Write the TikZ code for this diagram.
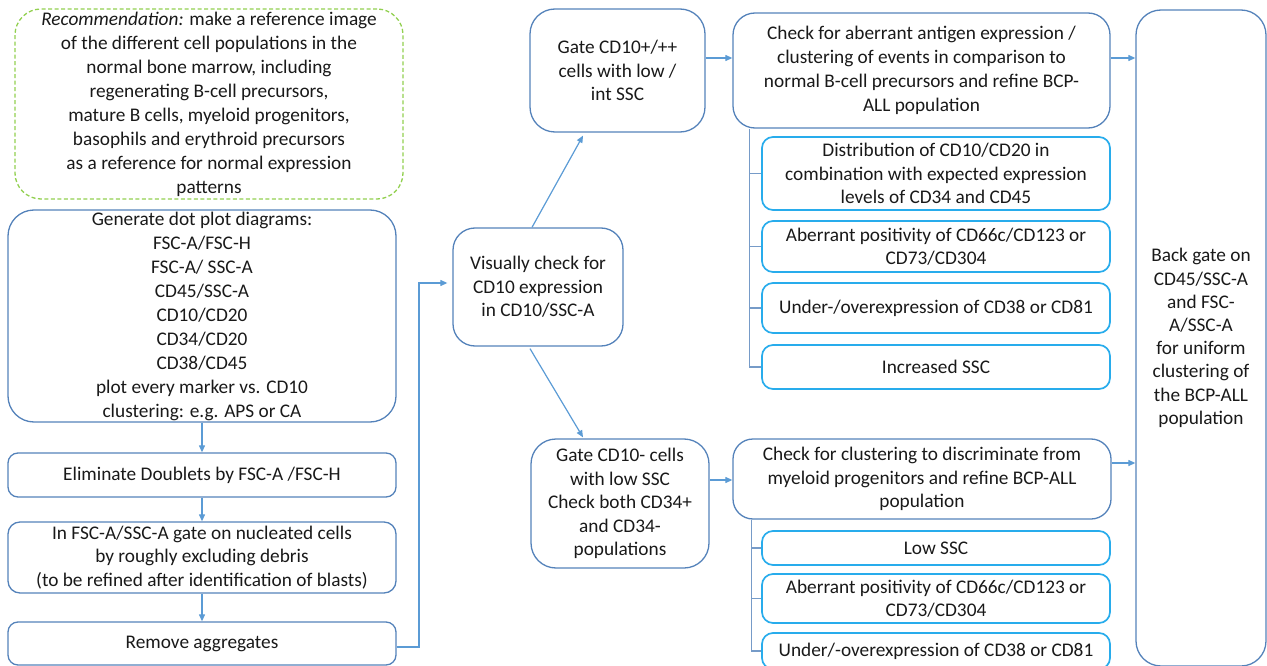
\documentclass[tikz,border=0pt]{standalone}
\usepackage{fontspec}
\setmainfont{Carlito}
\usetikzlibrary{arrows.meta,calc}
\definecolor{mainblue}{RGB}{84,130,186}
\definecolor{subblue}{RGB}{40,172,236}
\definecolor{arrblue}{RGB}{91,155,213}
\definecolor{recgreen}{RGB}{146,208,80}
\definecolor{txt}{RGB}{25,25,25}
\begin{document}
\begin{tikzpicture}[x=1pt,y=-1pt,
  every node/.style={font=\fontsize{19.3}{23.5}\selectfont, text=txt, align=center, inner sep=0pt},
  wide/.style={font=\fontsize{19.3}{24}\selectfont},
  mbox/.style={draw=mainblue, line width=1.3pt},
  sbox/.style={draw=subblue, line width=1.7pt, rounded corners=11pt, minimum width=348pt},
  recbox/.style={draw=recgreen, line width=1.3pt, dash pattern=on 4pt off 2.5pt, rounded corners=26pt},
  arr/.style={draw=arrblue, line width=1.2pt, -{Triangle[length=7pt,width=6pt]}},
  tree/.style={draw=mainblue!80, line width=1.2pt}
]
\useasboundingbox (0,0) rectangle (1267,666);
\clip (0,0) rectangle (1267,666);

% left column
\node[recbox, wide, minimum width=388pt, minimum height=190pt] (rec) at (209,104)
 {\textit{Recommendation:} make a reference image\\of the different cell populations in the\\normal bone marrow, including\\regenerating B-cell precursors,\\mature B cells, myeloid progenitors,\\basophils and erythroid precursors\\as a reference for normal expression\\patterns};
\node[mbox, wide, rounded corners=26pt, minimum width=388pt, minimum height=212pt] (gen) at (202,316)
 {Generate dot plot diagrams:\\FSC-A/FSC-H\\FSC-A/ SSC-A\\CD45/SSC-A\\CD10/CD20\\CD34/CD20\\CD38/CD45\\plot every marker vs. CD10\\clustering: e.g. APS or CA};
\node[mbox, rounded corners=10pt, minimum width=388pt, minimum height=44pt] (elim) at (202,475)
 {Eliminate Doublets by FSC-A /FSC-H};
\node[mbox, rounded corners=12pt, minimum width=388pt, minimum height=71pt] (nuc) at (202,557.5)
 {In FSC-A/SSC-A gate on nucleated cells\\by roughly excluding debris\\(to be refined after identification of blasts)};
\node[mbox, rounded corners=10pt, minimum width=388pt, minimum height=43pt] (rem) at (202,643.5)
 {Remove aggregates};

% middle
\node[mbox, rounded corners=22pt, minimum width=170pt, minimum height=118pt] (vis) at (538,287)
 {Visually check for\\CD10 expression\\in CD10/SSC-A};
\node[mbox, rounded corners=25pt, minimum width=175pt, minimum height=123pt] (gp) at (617.5,70.5)
 {Gate CD10+/++\\cells with low /\\int SSC};
\node[mbox, rounded corners=25pt, minimum width=178pt, minimum height=129pt] (gn) at (620,503.5)
 {Gate CD10- cells\\with low SSC\\Check both CD34+\\and CD34-\\populations};

% right checks
\node[mbox, wide, rounded corners=22pt, minimum width=377pt, minimum height=115pt] (ca) at (921.5,70.5)
 {Check for aberrant antigen expression /\\clustering of events in comparison to\\normal B-cell precursors and refine BCP-\\ALL population};
\node[mbox, rounded corners=20pt, minimum width=378pt, minimum height=80pt] (cc) at (922,479)
 {Check for clustering to discriminate from\\myeloid progenitors and refine BCP-ALL\\population};

\node[sbox, minimum height=73pt] (s1) at (936,173.5)
 {Distribution of CD10/CD20 in\\combination with expected expression\\levels of CD34 and CD45};
\node[sbox, minimum height=51pt] (s2) at (936,246.5)
 {Aberrant positivity of CD66c/CD123 or\\CD73/CD304};
\node[sbox, minimum height=50pt] (s3) at (936,308)
 {Under-/overexpression of CD38 or CD81};
\node[sbox, minimum height=44pt] (s4) at (936,367)
 {Increased SSC};

\node[sbox, minimum height=34pt] (b1) at (936,548)
 {Low SSC};
\node[sbox, minimum height=49pt] (b2) at (936,598.5)
 {Aberrant positivity of CD66c/CD123 or\\CD73/CD304};
\node[sbox, minimum height=36pt] (b3) at (936,651)
 {Under/-overexpression of CD38 or CD81};

% tall box
\node[mbox, rounded corners=25pt, minimum width=130pt, minimum height=656pt, font=\fontsize{19.3}{23.2}\selectfont] (tall) at (1201,338)
 {Back gate on\\CD45/SSC-A\\and FSC-\\A/SSC-A\\for uniform\\clustering of\\the BCP-ALL\\population};

% connectors left column
\draw[arr] (gen.south) -- (elim.north);
\draw[arr] (elim.south) -- (nuc.north);
\draw[arr] (nuc.south) -- (rem.north);
\coordinate (r1) at (419,647);
\coordinate (r2) at (419,283);
\draw[arr, shorten >=5pt] (rem.east |- r1) -- (r1) -- (r2) -- (vis.west |- r2);

% from visual
\draw[arr] ($(vis.north)+(-6,0)$) -- ($(gp.south)+(-34.5,3)$);
\draw[arr] ($(vis.south)+(-8,2)$) -- ($(gn.north)+(-37,-1)$);

% horizontal arrows
\coordinate (h1) at (0,58);
\coordinate (h2) at (0,480);
\coordinate (h3) at (0,463);
\draw[arr] (gp.east |- h1) -- (ca.west |- h1);
\draw[arr] (ca.east |- h1) -- (tall.west |- h1);
\draw[arr] (gn.east |- h2) -- (cc.west |- h2);
\draw[arr] (cc.east |- h3) -- (tall.west |- h3);

% trees
\coordinate (t1) at ($(ca.south west)+(17,0)$);
\draw[tree] (t1) |- (s4.west);
\draw[tree] (s1.west -| t1) -- (s1.west);
\draw[tree] (s2.west -| t1) -- (s2.west);
\draw[tree] (s3.west -| t1) -- (s3.west);
\coordinate (t2) at ($(cc.south west)+(19,0)$);
\draw[tree] (t2) |- (b3.west);
\draw[tree] (b1.west -| t2) -- (b1.west);
\draw[tree] (b2.west -| t2) -- (b2.west);
\end{tikzpicture}
\end{document}
